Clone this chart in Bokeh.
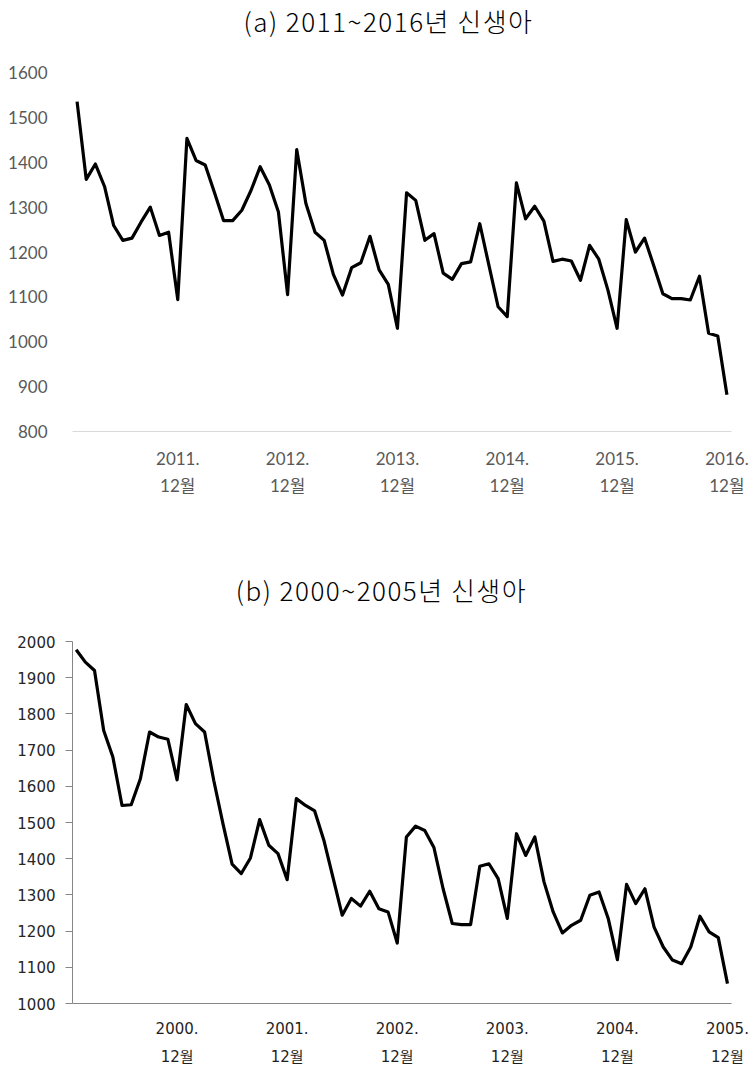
from bokeh.plotting import figure
from bokeh.layouts import column
from bokeh.models import LinearAxis, FixedTicker, Range1d, Div
from bokeh.embed import file_html
from bokeh.resources import INLINE

# ---------------- data ----------------
title_a = "(a) 2011~2016년 신생아"
title_b = "(b) 2000~2005년 신생아"

# monthly values, Jan 2011 .. Dec 2016
births_2011_2016 = [
    1535, 1362, 1396, 1346, 1259, 1226, 1231, 1267, 1300, 1237, 1244, 1094,
    1453, 1404, 1394, 1333, 1270, 1270, 1293, 1337, 1390, 1350, 1289, 1105,
    1428, 1308, 1244, 1226, 1150, 1104, 1165, 1176, 1235, 1160, 1128, 1030,
    1332, 1315, 1226, 1241, 1153, 1139, 1174, 1178, 1263, 1170, 1078, 1056,
    1354, 1274, 1302, 1269, 1179, 1184, 1180, 1137, 1215, 1184, 1115, 1030,
    1272, 1200, 1231, 1170, 1107, 1096, 1096, 1093, 1146, 1019, 1013, 882,
]
# monthly values, Jan 2000 .. Dec 2005
births_2000_2005 = [
    1977, 1943, 1920, 1754, 1681, 1547, 1549, 1621, 1750, 1736, 1730, 1618,
    1826, 1773, 1750, 1616, 1497, 1385, 1359, 1402, 1508, 1437, 1414, 1342,
    1566, 1547, 1532, 1451, 1348, 1244, 1290, 1269, 1310, 1262, 1253, 1167,
    1460, 1490, 1478, 1431, 1317, 1221, 1218, 1218, 1379, 1386, 1345, 1235,
    1469, 1409, 1460, 1336, 1253, 1195, 1216, 1230, 1299, 1308, 1235, 1121,
    1329, 1276, 1317, 1211, 1156, 1120, 1110, 1156, 1241, 1198, 1182, 1055,
]
month_index = list(range(72))
dec_positions = [11, 23, 35, 47, 59, 71]
years_a = ["2011.", "2012.", "2013.", "2014.", "2015.", "2016."]
years_b = ["2000.", "2001.", "2002.", "2003.", "2004.", "2005."]
month_label = "12월"
y_ticks_a = [800, 900, 1000, 1100, 1200, 1300, 1400, 1500, 1600]
y_ticks_b = [1000, 1100, 1200, 1300, 1400, 1500, 1600, 1700, 1800, 1900, 2000]

KR = "Noto Sans CJK KR"
W = 749


def title_div(text, shift, pad_top, height):
    return Div(
        text=f'<span style="position:relative;left:{shift}px;top:{pad_top}px;white-space:nowrap">{text}</span>',
        width=W, height=height, margin=(0, 0, 0, 0),
        styles={"text-align": "center", "font-family": KR, "font-size": "26px",
                "font-weight": "300", "letter-spacing": "1.5px",
                "color": "#000000", "line-height": "1.2"},
    )


def base_fig(xr, yr, fw, fh, left, right, top, bottom):
    p = figure(frame_width=fw, frame_height=fh, x_range=xr, y_range=yr,
               x_axis_type=None, output_backend="svg", toolbar_location=None,
               min_border_left=left, min_border_right=right,
               min_border_top=top, min_border_bottom=bottom)
    p.xgrid.visible = False
    p.ygrid.visible = False
    p.outline_line_color = None
    p.background_fill_color = "white"
    p.border_fill_color = "white"
    p.margin = (0, 0, 0, 0)
    return p


# ---------------- chart (a) ----------------
div_a = title_div(title_a, 14, 5, 46)
pa = base_fig(Range1d(-0.5, 71.5), Range1d(800, 1600), 659, 359, 72, 18, 26, 140)
ya = pa.yaxis[0]
ya.ticker = FixedTicker(ticks=y_ticks_a)
ya.axis_line_color = None
ya.major_tick_line_color = None
ya.minor_tick_line_color = None
ya.major_label_standoff = 19
ya.major_label_text_font = "Lato"
ya.major_label_text_font_size = "17px"
ya.major_label_text_color = "#595959"

ax_a1 = LinearAxis(ticker=FixedTicker(ticks=dec_positions),
                   major_label_overrides={k: v for k, v in zip(dec_positions, years_a)})
ax_a2 = LinearAxis(ticker=FixedTicker(ticks=dec_positions),
                   major_label_overrides={k: month_label for k in dec_positions})
for ax in (ax_a1, ax_a2):
    ax.major_tick_line_color = None
    ax.minor_tick_line_color = None
    ax.major_label_text_font = f"Lato, '{KR}'"
    ax.major_label_text_font_size = "17px"
    ax.major_label_text_color = "#595959"
ax_a1.axis_line_color = "#d9d9d9"
ax_a1.major_label_standoff = 14
ax_a2.axis_line_color = None
ax_a2.major_label_standoff = 1
pa.add_layout(ax_a1, "below")
pa.add_layout(ax_a2, "below")
pa.line(month_index, births_2011_2016, line_width=3.2, line_color="black", line_join="round")

# ---------------- chart (b) ----------------
div_b = title_div(title_b, 7, 3, 40)
pb = base_fig(Range1d(-0.40, 71.44), Range1d(1000, 2000), 659, 362, 69, 21, 30, 56)
yb = pb.yaxis[0]
yb.ticker = FixedTicker(ticks=y_ticks_b)
yb.axis_line_color = "#868686"
yb.major_tick_line_color = "#868686"
yb.major_tick_out = 7
yb.major_tick_in = 0
yb.minor_tick_line_color = None
yb.major_label_standoff = 10
yb.major_label_text_font = "DejaVu Sans"
yb.major_label_text_font_size = "15px"
yb.major_label_text_color = "#262626"

ax_b1 = LinearAxis(ticker=FixedTicker(ticks=dec_positions),
                   major_label_overrides={k: v for k, v in zip(dec_positions, years_b)})
ax_b2 = LinearAxis(ticker=FixedTicker(ticks=dec_positions),
                   major_label_overrides={k: month_label for k in dec_positions})
for ax in (ax_b1, ax_b2):
    ax.major_tick_line_color = None
    ax.minor_tick_line_color = None
    ax.major_label_text_font = f"'DejaVu Sans', '{KR}'"
    ax.major_label_text_font_size = "15px"
    ax.major_label_text_color = "#1f1f1f"
ax_b1.axis_line_color = "#868686"
ax_b1.major_label_standoff = 12
ax_b2.axis_line_color = None
ax_b2.major_label_standoff = 5
pb.add_layout(ax_b1, "below")
pb.add_layout(ax_b2, "below")
pb.line(month_index, births_2000_2005, line_width=3.2, line_color="black", line_join="round")

layout = column(div_a, pa, div_b, pb, spacing=0)
open("out.html", "w").write(file_html(layout, INLINE))
